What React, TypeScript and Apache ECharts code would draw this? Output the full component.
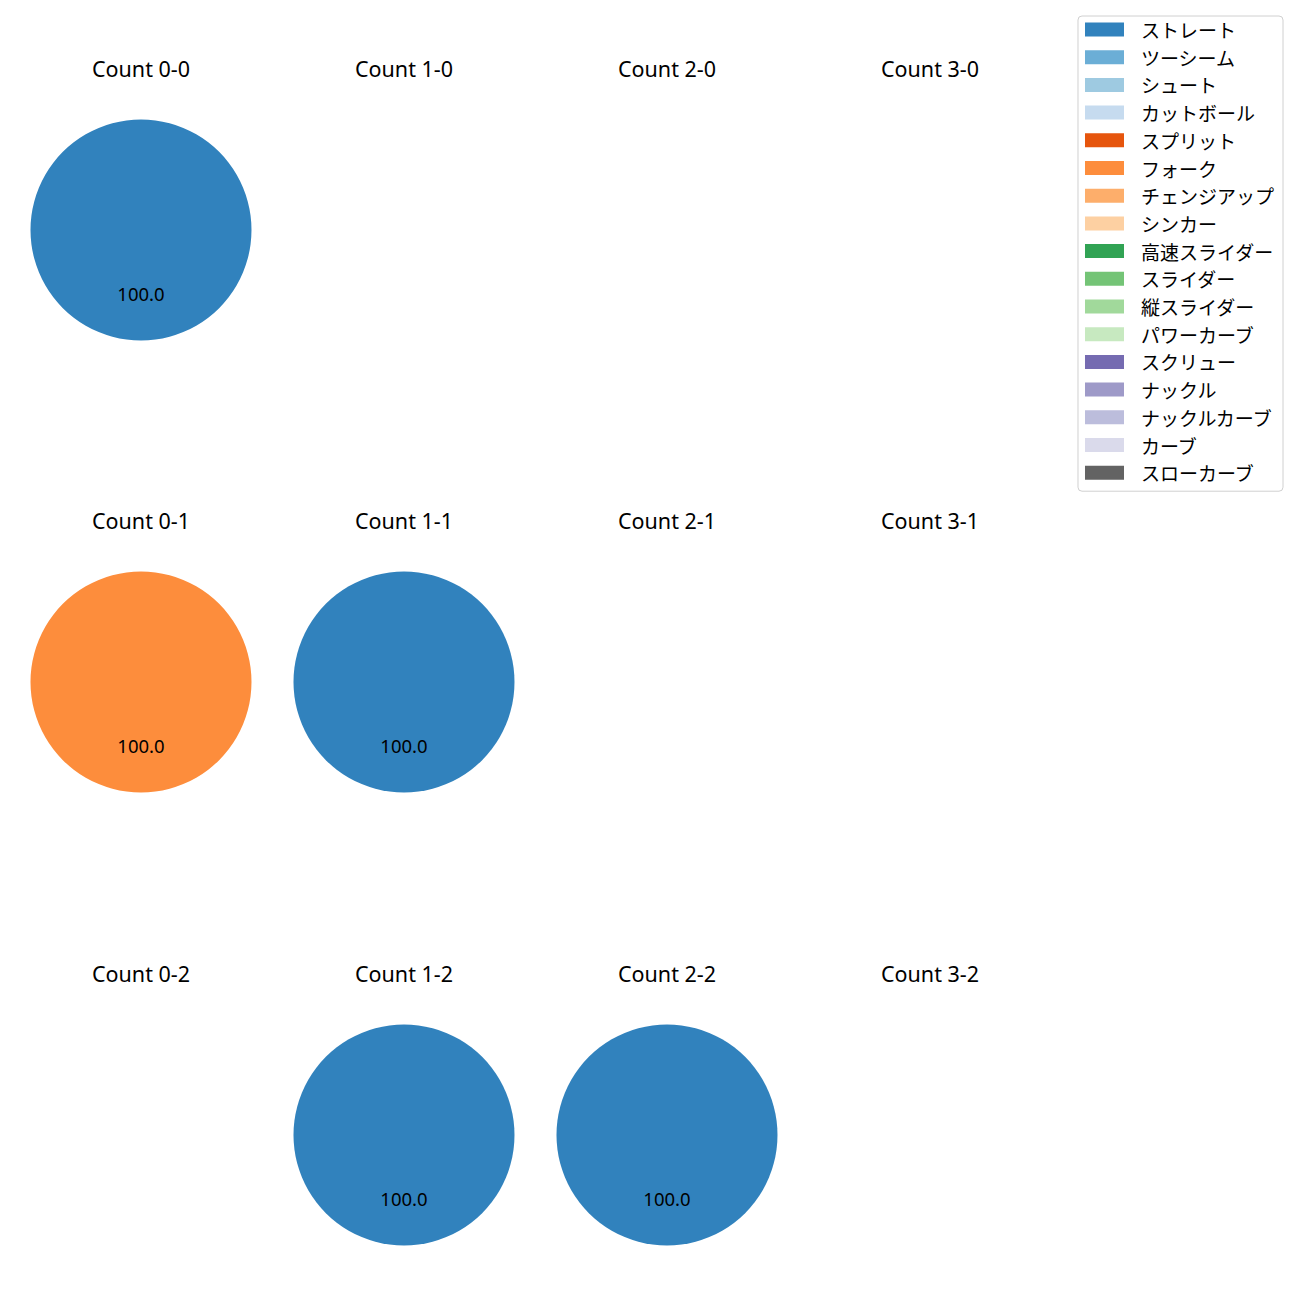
import React, { useEffect, useRef } from "react";
import * as echarts from "echarts";

const pitchTypes = [
  "ストレート", "ツーシーム", "シュート", "カットボール", "スプリット", "フォーク",
  "チェンジアップ", "シンカー", "高速スライダー", "スライダー", "縦スライダー",
  "パワーカーブ", "スクリュー", "ナックル", "ナックルカーブ", "カーブ", "スローカーブ",
];
const palette = [
  "#3182bd", "#6baed6", "#9ecae1", "#c6dbef", "#e6550d", "#fd8d3c", "#fdae6b",
  "#fdd0a2", "#31a354", "#74c476", "#a1d99b", "#c7e9c0", "#756bb1", "#9e9ac8",
  "#bcbddc", "#dadaeb", "#636363",
];

// counts per pitch type for each ball-strike cell (same order as pitchTypes)
const count_0_0 = [1, 0, 0, 0, 0, 0, 0, 0, 0, 0, 0, 0, 0, 0, 0, 0, 0];
const count_1_0 = [0, 0, 0, 0, 0, 0, 0, 0, 0, 0, 0, 0, 0, 0, 0, 0, 0];
const count_2_0 = [0, 0, 0, 0, 0, 0, 0, 0, 0, 0, 0, 0, 0, 0, 0, 0, 0];
const count_3_0 = [0, 0, 0, 0, 0, 0, 0, 0, 0, 0, 0, 0, 0, 0, 0, 0, 0];
const count_0_1 = [0, 0, 0, 0, 0, 1, 0, 0, 0, 0, 0, 0, 0, 0, 0, 0, 0];
const count_1_1 = [1, 0, 0, 0, 0, 0, 0, 0, 0, 0, 0, 0, 0, 0, 0, 0, 0];
const count_2_1 = [0, 0, 0, 0, 0, 0, 0, 0, 0, 0, 0, 0, 0, 0, 0, 0, 0];
const count_3_1 = [0, 0, 0, 0, 0, 0, 0, 0, 0, 0, 0, 0, 0, 0, 0, 0, 0];
const count_0_2 = [0, 0, 0, 0, 0, 0, 0, 0, 0, 0, 0, 0, 0, 0, 0, 0, 0];
const count_1_2 = [1, 0, 0, 0, 0, 0, 0, 0, 0, 0, 0, 0, 0, 0, 0, 0, 0];
const count_2_2 = [1, 0, 0, 0, 0, 0, 0, 0, 0, 0, 0, 0, 0, 0, 0, 0, 0];
const count_3_2 = [0, 0, 0, 0, 0, 0, 0, 0, 0, 0, 0, 0, 0, 0, 0, 0, 0];

const cells = [
  { balls: 0, strikes: 0, counts: count_0_0 },
  { balls: 1, strikes: 0, counts: count_1_0 },
  { balls: 2, strikes: 0, counts: count_2_0 },
  { balls: 3, strikes: 0, counts: count_3_0 },
  { balls: 0, strikes: 1, counts: count_0_1 },
  { balls: 1, strikes: 1, counts: count_1_1 },
  { balls: 2, strikes: 1, counts: count_2_1 },
  { balls: 3, strikes: 1, counts: count_3_1 },
  { balls: 0, strikes: 2, counts: count_0_2 },
  { balls: 1, strikes: 2, counts: count_1_2 },
  { balls: 2, strikes: 2, counts: count_2_2 },
  { balls: 3, strikes: 2, counts: count_3_2 },
];

const LATIN = "'Noto Sans', 'Noto Sans CJK JP', sans-serif";
const CJK = "'Noto Sans CJK JP', 'Noto Sans', sans-serif";

export default function App() {
  const ref = useRef<HTMLDivElement>(null);
  useEffect(() => {
    if (!ref.current) return;
    const chart = echarts.init(ref.current, undefined, { renderer: "svg" });
    const colX = [141, 404, 667, 930];
    const rowY = [230, 682, 1135];
    const titleY = [68, 520, 973];
    const R = 110.5;

    const graphics: any[] = [];
    const series: any[] = [];
    let legendAdded = false;
    cells.forEach((c) => {
      const x = colX[c.balls];
      const y = rowY[c.strikes];
      graphics.push({
        type: "text",
        x,
        y: titleY[c.strikes],
        style: {
          text: `Count ${c.balls}-${c.strikes}`,
          font: `21.5px ${LATIN}`,
          fill: "#000",
          textAlign: "center",
          textVerticalAlign: "middle",
        },
      });
      const total = c.counts.reduce((a, b) => a + b, 0);
      if (total <= 0) return;
      series.push({
        type: "pie",
        center: [x, y],
        radius: [0, R],
        startAngle: 90,
        clockwise: true,
        stillShowZeroSum: false,
        avoidLabelOverlap: false,
        itemStyle: { borderWidth: 0 },
        emphasis: { disabled: true },
        label: {
          show: true,
          position: "inside",
          color: "#000",
          fontSize: 18.5,
          fontFamily: LATIN,
          formatter: (p: any) => (p.value > 0 ? p.percent.toFixed(1) : ""),
        },
        labelLayout: { dy: 5 },
        labelLine: { show: false },
        data: pitchTypes.map((name, i) => ({
          name,
          value: c.counts[i],
          itemStyle: { color: palette[i] },
        })),
      });
      legendAdded = true;
    });

    chart.setOption({
      animation: false,
      backgroundColor: "#fff",
      color: palette,
      legend: legendAdded
        ? {
            orient: "vertical",
            right: 17,
            top: 16,
            data: pitchTypes,
            itemWidth: 39,
            itemHeight: 14,
            itemGap: 8.7,
            icon: "rect",
            padding: [4, 9, 9, 7],
            borderColor: "#d0d0d0",
            borderWidth: 1,
            borderRadius: 4,
            backgroundColor: "#fff",
            selectedMode: false,
            textStyle: {
              fontFamily: CJK,
              fontSize: 19,
              color: "#000",
              padding: [0, 0, 0, 12],
            },
          }
        : undefined,
      graphic: graphics,
      series,
    });
    return () => chart.dispose();
  }, []);
  return (
    <div
      ref={ref}
      style={{ position: "absolute", left: 0, top: 0, width: 1300, height: 1300 }}
    />
  );
}
